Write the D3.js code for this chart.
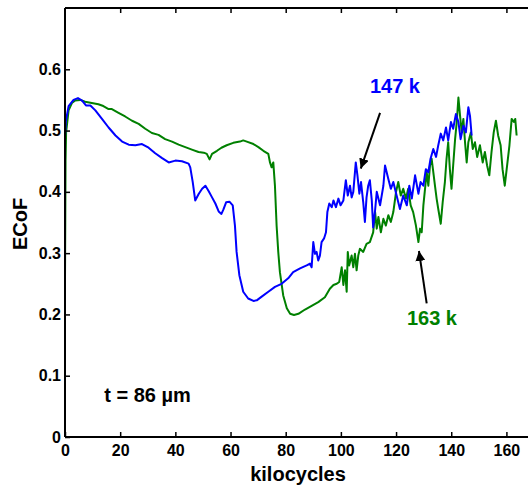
<!DOCTYPE html>
<html><head><meta charset="utf-8">
<script src="https://cdn.jsdelivr.net/npm/d3@7"></script>
<style>
html,body{margin:0;padding:0;background:#fff;}
svg text{font-family:"Liberation Sans",Arial,sans-serif;font-weight:bold;}
</style></head>
<body><svg id="c" width="528" height="493"></svg>
<script>
const xTicks = [0,20,40,60,80,100,120,140,160];
const yTicks = [0,0.1,0.2,0.3,0.4,0.5,0.6];
const yTickLabels = ["0","0.1","0.2","0.3","0.4","0.5","0.6"];

const blueX = [0,0.3,1.3,3.1,4.7,6.2,7.6,9.2,11,13.4,15.8,18.3,20.7,23.1,25.5,27.9,30.3,32.7,35.2,37.6,40,42.4,44.8,45.4,46.3,47.2,48.5,49.7,50.9,52.1,53.3,54.5,55.7,56.7,57.4,58.4,59.6,60.8,61.6,62.2,63.2,64.6,66.4,68.3,69.5,71.3,73.7,76.1,78.5,80.9,82.7,85.2,87.6,88.8,89.4,90,90.6,91.2,91.8,92.4,93,93.9,94.6,95.1,95.8,96.7,97.3,98.2,99.1,99.9,100.9,101.8,102.5,103.3,103.9,104.5,105.4,106,106.7,107.3,108.1,108.7,109.3,109.9,110.5,111.2,111.7,112.4,113,114.2,115.4,116,117.2,118.1,119,120.2,121.4,122.6,123.9,124.8,125.7,126.9,128.1,128.9,129.9,130.8,131.7,132.5,133.5,134.5,135.3,136.2,137.1,138.1,138.9,139.9,140.7,141.7,142.6,143.4,144.4,145.3,146.2,146.8,147.4];
const blueY = [0.49,0.515,0.54,0.55,0.553,0.549,0.541,0.541,0.533,0.519,0.505,0.492,0.482,0.477,0.476,0.478,0.472,0.463,0.455,0.448,0.451,0.45,0.446,0.44,0.416,0.386,0.397,0.405,0.41,0.401,0.391,0.381,0.368,0.364,0.371,0.383,0.384,0.378,0.345,0.302,0.264,0.237,0.226,0.222,0.223,0.229,0.237,0.245,0.25,0.259,0.269,0.275,0.28,0.283,0.277,0.318,0.299,0.302,0.288,0.296,0.318,0.324,0.334,0.367,0.381,0.375,0.386,0.375,0.389,0.378,0.386,0.419,0.394,0.41,0.391,0.4,0.448,0.427,0.397,0.416,0.383,0.351,0.391,0.41,0.419,0.386,0.342,0.37,0.4,0.378,0.41,0.443,0.421,0.405,0.416,0.394,0.372,0.394,0.378,0.41,0.389,0.427,0.397,0.416,0.41,0.437,0.432,0.454,0.47,0.457,0.476,0.495,0.484,0.505,0.484,0.514,0.503,0.527,0.514,0.486,0.508,0.497,0.538,0.524,0.492];

const greenX = [0,0.1,0.2,0.4,1.3,2.5,3.7,5.5,7.3,9.7,12.1,13.9,15.8,17,19.4,21.8,24.3,26.7,29.1,31.5,33.9,36.3,38.8,41.2,43.6,46,48.4,50.3,51.4,52.4,53.3,55.1,56.7,58.6,61,63.4,64.6,65.9,68.3,70.1,71.9,73.7,74.3,74.9,75.5,76.1,76.7,77.3,77.9,79.1,80.4,81.6,83,84.6,87,89.4,91.8,94.2,96,97.3,98.5,99.4,100.3,100.9,101.5,102.1,102.5,103,103.9,104.5,105.1,105.7,106.3,106.9,108.1,109.3,110.5,111.7,112.4,113,113.6,114.5,115.4,116.3,117.2,118.1,119,120,120.8,121.7,122.6,123.6,124.4,125.3,126.2,127.2,128.1,128.7,129.3,129.9,130.5,131.1,131.7,132.3,132.9,133.5,134.1,134.7,135.3,136.2,136.9,137.7,138.3,138.9,139.5,140.1,140.7,141.4,142,142.6,143.2,143.8,144.4,145,145.6,146.2,147.1,147.8,148.6,149.4,150.4,151.4,152.2,153,153.8,154.6,155.4,156.2,157,157.9,158.6,159.4,160.1,161.1,161.9,162.7,163.2,163.7];
const greenY = [0.256,0.35,0.45,0.497,0.533,0.545,0.549,0.55,0.547,0.545,0.543,0.54,0.535,0.535,0.529,0.523,0.516,0.511,0.503,0.496,0.493,0.486,0.482,0.477,0.473,0.469,0.465,0.464,0.462,0.453,0.462,0.467,0.472,0.476,0.48,0.482,0.484,0.482,0.478,0.473,0.467,0.462,0.448,0.44,0.448,0.41,0.345,0.302,0.269,0.231,0.21,0.201,0.199,0.201,0.208,0.214,0.22,0.228,0.242,0.248,0.25,0.253,0.277,0.248,0.272,0.237,0.302,0.28,0.296,0.277,0.299,0.272,0.296,0.307,0.302,0.315,0.318,0.334,0.367,0.34,0.359,0.334,0.356,0.345,0.362,0.351,0.367,0.4,0.416,0.394,0.405,0.389,0.405,0.378,0.367,0.345,0.318,0.34,0.334,0.378,0.405,0.432,0.41,0.443,0.454,0.432,0.41,0.389,0.372,0.348,0.383,0.416,0.454,0.481,0.437,0.405,0.443,0.486,0.514,0.554,0.524,0.497,0.519,0.481,0.448,0.481,0.497,0.47,0.481,0.457,0.476,0.448,0.465,0.443,0.427,0.465,0.497,0.516,0.492,0.476,0.437,0.41,0.437,0.476,0.519,0.514,0.519,0.492];

const labels = ["147 k","163 k","t = 86 µm"];
const labelX = [119.6,133.0,14.2];
const labelY = [0.561,0.183,0.0576];
const arrowFromX = [114.2,131.1], arrowFromY = [0.529,0.218];
const arrowToX = [107.2,128.3], arrowToY = [0.438,0.3035];

const BLUE="#0000ff", GREEN="#008000";
const L=65, R=534, T=8, B=437;
const svg=d3.select("#c");
const x=d3.scaleLinear().domain([0,170]).range([L,R]);
const y=d3.scaleLinear().domain([0,0.7]).range([B,T]);

svg.append("defs").append("marker").attr("id","ah").attr("viewBox","0 0 10 10")
  .attr("refX",10).attr("refY",5).attr("markerWidth",5).attr("markerHeight",5)
  .attr("markerUnits","strokeWidth").attr("orient","auto")
  .append("path").attr("d","M0,0L10,5L0,10Z").attr("fill","#000");

const line=d3.line().x(d=>x(d[0])).y(d=>y(d[1]));
const blue=blueX.map((v,i)=>[v,blueY[i]]);
const green=greenX.map((v,i)=>[v,greenY[i]]);
svg.append("path").attr("d",line(green)).attr("fill","none").attr("stroke",GREEN).attr("stroke-width",2).attr("stroke-linejoin","round");
svg.append("path").attr("d",line(blue)).attr("fill","none").attr("stroke",BLUE).attr("stroke-width",2).attr("stroke-linejoin","round");

// axes
const ax=svg.append("g").attr("transform",`translate(0,${B})`)
  .call(d3.axisBottom(x).tickValues(xTicks).tickSize(-5).tickPadding(8).tickFormat(d3.format("d")));
const ay=svg.append("g").attr("transform",`translate(${L},0)`)
  .call(d3.axisLeft(y).tickValues(yTicks).tickSize(-5).tickPadding(4).tickFormat((d,i)=>yTickLabels[i]));
const at=svg.append("g").attr("transform",`translate(0,${T})`)
  .call(d3.axisTop(x).tickValues(xTicks.slice(1)).tickSize(-5).tickFormat(""));
const ar=svg.append("g").attr("transform",`translate(${R},0)`)
  .call(d3.axisRight(y).tickValues(yTicks).tickSize(-5).tickFormat(""));
[ax,ay,at,ar].forEach(g=>{
  g.select(".domain").attr("stroke","#000").attr("stroke-width",2);
  g.selectAll(".tick line").attr("stroke","#000").attr("stroke-width",1.5);
  g.selectAll(".tick text").attr("fill","#000").style("font-size","16px").style("font-family","'Liberation Sans',Arial,sans-serif").style("font-weight","bold");
});
ax.select(".domain").attr("d",`M${L},0H${R}`);
ay.select(".domain").attr("d",`M0,${B}V${T}`);
at.select(".domain").attr("d",`M${L},0H${R}`);
ar.select(".domain").attr("d",`M0,${B}V${T}`);

svg.append("text").attr("x",298).attr("y",481).attr("text-anchor","middle").style("font-size","20px").text("kilocycles");
svg.append("text").attr("transform","translate(27,224) rotate(-90)").attr("text-anchor","middle").style("font-size","20px").text("ECoF");

// annotations
svg.append("text").attr("x",x(labelX[0])).attr("y",y(labelY[0])).attr("text-anchor","middle").attr("fill",BLUE).style("font-size","20px").text(labels[0]);
svg.append("text").attr("x",x(labelX[1])).attr("y",y(labelY[1])).attr("text-anchor","middle").attr("fill",GREEN).style("font-size","20px").text(labels[1]);
svg.append("text").attr("x",x(labelX[2])).attr("y",y(labelY[2])).attr("text-anchor","start").attr("fill","#000").style("font-size","20px").text(labels[2]);
for(let i=0;i<2;i++){
  svg.append("line").attr("x1",x(arrowFromX[i])).attr("y1",y(arrowFromY[i]))
    .attr("x2",x(arrowToX[i])).attr("y2",y(arrowToY[i]))
    .attr("stroke","#000").attr("stroke-width",2).attr("marker-end","url(#ah)");
}
</script></body></html>
